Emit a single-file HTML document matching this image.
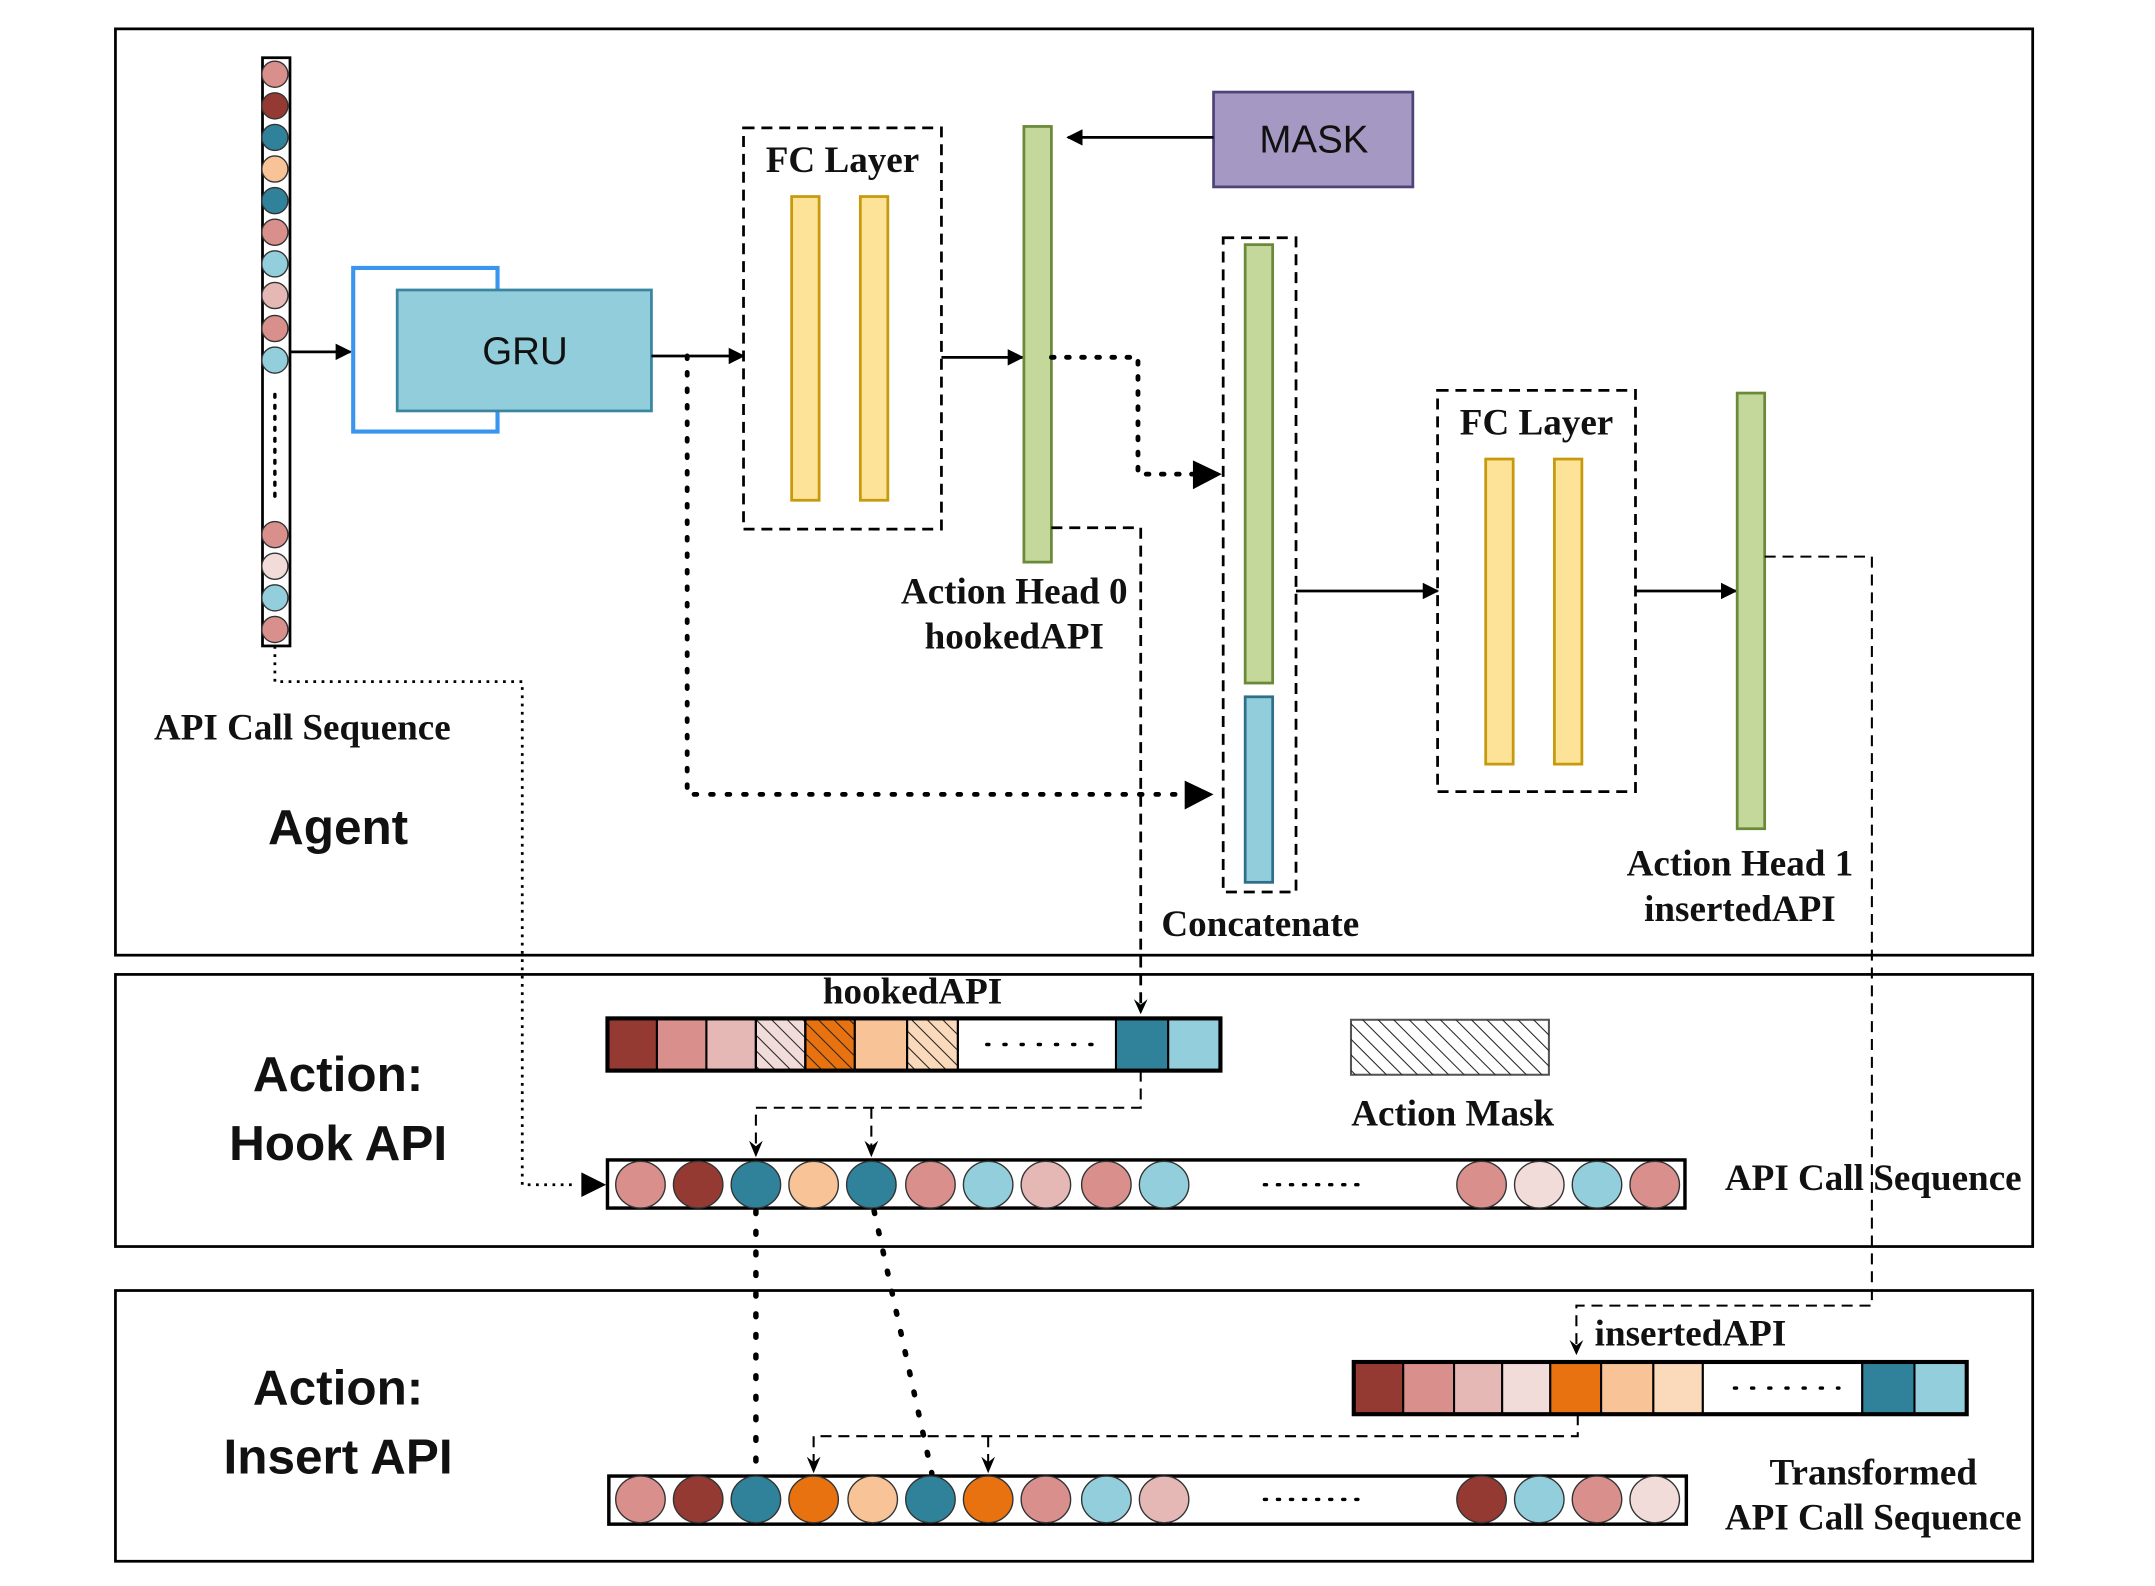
<!DOCTYPE html>
<html><head><meta charset="utf-8"><style>
html,body{margin:0;padding:0;background:#fff;}
svg{display:block;}
.s{font-family:"Liberation Serif",serif;font-weight:bold;font-size:27px;fill:#111;text-anchor:middle;}
.b{font-family:"Liberation Sans",sans-serif;font-weight:bold;font-size:36px;fill:#111;text-anchor:middle;}
</style></head><body>
<svg width="2155" height="1586" viewBox="0 0 1568 1154" preserveAspectRatio="none" xmlns="http://www.w3.org/2000/svg">
<defs>
<marker id="a" viewBox="0 0 10 10" refX="9" refY="5" markerWidth="12" markerHeight="12" markerUnits="userSpaceOnUse" orient="auto"><path d="M0,0L10,5L0,10z" fill="#000"/></marker>
<pattern id="h" width="8" height="8" patternUnits="userSpaceOnUse" patternTransform="rotate(-45)"><line x1="0" y1="0" x2="0" y2="8" stroke="#222" stroke-width="1.5"/></pattern>
</defs>
<rect width="1568" height="1154" fill="#fff"/>
<g fill="none" stroke="#000" stroke-width="2">
<rect x="84" y="21" width="1395" height="674"/>
<rect x="84" y="709" width="1395" height="198"/>
<rect x="84" y="939" width="1395" height="197"/>
</g>
<rect x="191" y="42" width="20" height="428" fill="#fff" stroke="#000" stroke-width="2"/>
<g stroke="#333" stroke-width="1">
<circle cx="200" cy="54" r="9.5" fill="#d9908c"/>
<circle cx="200" cy="77" r="9.5" fill="#943a33"/>
<circle cx="200" cy="100" r="9.5" fill="#2f829a"/>
<circle cx="200" cy="123" r="9.5" fill="#f8c396"/>
<circle cx="200" cy="146" r="9.5" fill="#2f829a"/>
<circle cx="200" cy="169" r="9.5" fill="#d9908c"/>
<circle cx="200" cy="192" r="9.5" fill="#93cedc"/>
<circle cx="200" cy="215" r="9.5" fill="#e5b8b5"/>
<circle cx="200" cy="239" r="9.5" fill="#d9908c"/>
<circle cx="200" cy="262" r="9.5" fill="#93cedc"/>
<circle cx="200" cy="389" r="9.5" fill="#d9908c"/>
<circle cx="200" cy="412" r="9.5" fill="#f2dcd9"/>
<circle cx="200" cy="435" r="9.5" fill="#93cedc"/>
<circle cx="200" cy="458" r="9.5" fill="#d9908c"/>
</g>
<line x1="200" y1="287" x2="200" y2="362" stroke="#000" stroke-width="2.5" stroke-dasharray="2 6" stroke-linecap="round"/>
<line x1="211" y1="256" x2="255" y2="256" stroke="#000" stroke-width="2" marker-end="url(#a)"/>
<path d="M362,211V195H257V314H362V299" fill="none" stroke="#3a95ee" stroke-width="3"/>
<rect x="289" y="211" width="185" height="88" fill="#92cddb" stroke="#3a86a0" stroke-width="2"/>
<text x="382" y="265" style="font-family:'Liberation Sans',sans-serif;font-size:28px;text-anchor:middle" fill="#111">GRU</text>
<line x1="474" y1="259" x2="541" y2="259" stroke="#000" stroke-width="2" marker-end="url(#a)"/>
<rect x="541" y="93" width="144" height="292" fill="none" stroke="#000" stroke-width="2" stroke-dasharray="8 5"/>
<text x="613" y="125" class="s">FC Layer</text>
<rect x="576" y="143" width="20" height="221" fill="#fde398" stroke="#c79a0c" stroke-width="2"/>
<rect x="626" y="143" width="20" height="221" fill="#fde398" stroke="#c79a0c" stroke-width="2"/>
<line x1="685" y1="260" x2="744" y2="260" stroke="#000" stroke-width="2" marker-end="url(#a)"/>
<rect x="745" y="92" width="20" height="317" fill="#c4d89b" stroke="#6a8a3a" stroke-width="2"/>
<rect x="883" y="67" width="145" height="69" fill="#a599c4" stroke="#4f4478" stroke-width="2"/>
<text x="956" y="111" style="font-family:'Liberation Sans',sans-serif;font-size:28px;text-anchor:middle" fill="#111">MASK</text>
<line x1="883" y1="100" x2="777" y2="100" stroke="#000" stroke-width="2" marker-end="url(#a)"/>
<path d="M765,260H828V345H870" fill="none" stroke="#000" stroke-width="3.5" stroke-dasharray="2 9" stroke-linecap="round"/>
<path d="M868,335L889,345L868,356z" fill="#000"/>
<path d="M765,384H830V736" fill="none" stroke="#000" stroke-width="2" stroke-dasharray="8 5"/>
<path d="M825,727L830,738L835,727L830,731z" fill="#000"/>
<path d="M500,259V578H862" fill="none" stroke="#000" stroke-width="3.5" stroke-dasharray="2 10" stroke-linecap="round"/>
<path d="M862,568L883,578L862,589z" fill="#000"/>
<text x="738" y="439" class="s">Action Head 0</text>
<text x="738" y="472" class="s">hookedAPI</text>
<rect x="890" y="173" width="53" height="476" fill="none" stroke="#000" stroke-width="2" stroke-dasharray="8 5"/>
<rect x="906" y="178" width="20" height="319" fill="#c4d89b" stroke="#6a8a3a" stroke-width="2"/>
<rect x="906" y="507" width="20" height="135" fill="#92cddb" stroke="#2f6f8a" stroke-width="2"/>
<text x="917" y="681" class="s">Concatenate</text>
<line x1="943" y1="430" x2="1046" y2="430" stroke="#000" stroke-width="2" marker-end="url(#a)"/>
<rect x="1046" y="284" width="144" height="292" fill="none" stroke="#000" stroke-width="2" stroke-dasharray="8 5"/>
<text x="1118" y="316" class="s">FC Layer</text>
<rect x="1081" y="334" width="20" height="222" fill="#fde398" stroke="#c79a0c" stroke-width="2"/>
<rect x="1131" y="334" width="20" height="222" fill="#fde398" stroke="#c79a0c" stroke-width="2"/>
<line x1="1190" y1="430" x2="1263" y2="430" stroke="#000" stroke-width="2" marker-end="url(#a)"/>
<rect x="1264" y="286" width="20" height="317" fill="#c4d89b" stroke="#6a8a3a" stroke-width="2"/>
<text x="1266" y="637" class="s">Action Head 1</text>
<text x="1266" y="670" class="s">insertedAPI</text>
<path d="M1284,405H1362V950H1147V983" fill="none" stroke="#000" stroke-width="1.5" stroke-dasharray="8 5"/>
<path d="M1142,975L1147,986L1152,975L1147,979z" fill="#000"/>
<text x="220" y="538" class="s">API Call Sequence</text>
<text x="246" y="614" class="b">Agent</text>
<path d="M200,470V496H380V862H420" fill="none" stroke="#000" stroke-width="2" stroke-dasharray="2 4"/>
<path d="M423,853L441,862L423,871z" fill="#000"/>
<text x="246" y="794" class="b">Action:</text>
<text x="246" y="844" class="b">Hook API</text>
<text x="664" y="730" class="s">hookedAPI</text>
<g stroke="#000" stroke-width="1.5">
<rect x="442" y="741" width="36" height="38" fill="#943a33"/>
<rect x="478" y="741" width="36" height="38" fill="#d9908c"/>
<rect x="514" y="741" width="36" height="38" fill="#e5b8b5"/>
<rect x="550" y="741" width="36" height="38" fill="#f2dcd9"/>
<rect x="550" y="741" width="36" height="38" fill="url(#h)"/>
<rect x="586" y="741" width="36" height="38" fill="#e8720f"/>
<rect x="586" y="741" width="36" height="38" fill="url(#h)"/>
<rect x="622" y="741" width="38" height="38" fill="#f8c396"/>
<rect x="660" y="741" width="37" height="38" fill="#fbd9bb"/>
<rect x="660" y="741" width="37" height="38" fill="url(#h)"/>
<rect x="697" y="741" width="115" height="38" fill="#fff"/>
<rect x="812" y="741" width="38" height="38" fill="#2f829a"/>
<rect x="850" y="741" width="38" height="38" fill="#93cedc"/>
</g>
<rect x="442" y="741" width="446" height="38" fill="none" stroke="#000" stroke-width="3"/>
<line x1="718" y1="760" x2="795" y2="760" stroke="#000" stroke-width="2.5" stroke-dasharray="1.5 11" stroke-linecap="round"/>
<rect x="983" y="742" width="144" height="40" fill="#fff" stroke="#555" stroke-width="1.5"/>
<rect x="983" y="742" width="144" height="40" fill="url(#h)"/>
<text x="1057" y="819" class="s">Action Mask</text>
<path d="M830,779V806H550V840M634,806V840" fill="none" stroke="#000" stroke-width="1.5" stroke-dasharray="8 5"/>
<path d="M545,830L550,842L555,830L550,834zM629,830L634,842L639,830L634,834z" fill="#000"/>
<rect x="442" y="844" width="784" height="35" fill="#fff" stroke="#000" stroke-width="2.5"/>
<g stroke="#333" stroke-width="1">
<ellipse cx="466" cy="862" rx="18" ry="17" fill="#d9908c"/>
<ellipse cx="508" cy="862" rx="18" ry="17" fill="#943a33"/>
<ellipse cx="550" cy="862" rx="18" ry="17" fill="#2f829a"/>
<ellipse cx="592" cy="862" rx="18" ry="17" fill="#f8c396"/>
<ellipse cx="634" cy="862" rx="18" ry="17" fill="#2f829a"/>
<ellipse cx="677" cy="862" rx="18" ry="17" fill="#d9908c"/>
<ellipse cx="719" cy="862" rx="18" ry="17" fill="#93cedc"/>
<ellipse cx="761" cy="862" rx="18" ry="17" fill="#e5b8b5"/>
<ellipse cx="805" cy="862" rx="18" ry="17" fill="#d9908c"/>
<ellipse cx="847" cy="862" rx="18" ry="17" fill="#93cedc"/>
<ellipse cx="1078" cy="862" rx="18" ry="17" fill="#d9908c"/>
<ellipse cx="1120" cy="862" rx="18" ry="17" fill="#f2dcd9"/>
<ellipse cx="1162" cy="862" rx="18" ry="17" fill="#93cedc"/>
<ellipse cx="1204" cy="862" rx="18" ry="17" fill="#d9908c"/>
</g>
<line x1="920" y1="862" x2="996" y2="862" stroke="#000" stroke-width="2.5" stroke-dasharray="1.5 8" stroke-linecap="round"/>
<text x="1363" y="866" class="s">API Call Sequence</text>
<line x1="550" y1="881" x2="550" y2="1072" stroke="#000" stroke-width="4" stroke-dasharray="2 13" stroke-linecap="round"/>
<line x1="636" y1="881" x2="678" y2="1072" stroke="#000" stroke-width="4" stroke-dasharray="2 13" stroke-linecap="round"/>
<text x="246" y="1022" class="b">Action:</text>
<text x="246" y="1072" class="b">Insert API</text>
<text x="1230" y="979" class="s">insertedAPI</text>
<g stroke="#000" stroke-width="1.5">
<rect x="985" y="991" width="36" height="38" fill="#943a33"/>
<rect x="1021" y="991" width="37" height="38" fill="#d9908c"/>
<rect x="1058" y="991" width="35" height="38" fill="#e5b8b5"/>
<rect x="1093" y="991" width="35" height="38" fill="#f2dcd9"/>
<rect x="1128" y="991" width="37" height="38" fill="#e8720f"/>
<rect x="1165" y="991" width="38" height="38" fill="#f8c396"/>
<rect x="1203" y="991" width="36" height="38" fill="#fbd9bb"/>
<rect x="1239" y="991" width="116" height="38" fill="#fff"/>
<rect x="1355" y="991" width="38" height="38" fill="#2f829a"/>
<rect x="1393" y="991" width="38" height="38" fill="#93cedc"/>
</g>
<rect x="985" y="991" width="446" height="38" fill="none" stroke="#000" stroke-width="3"/>
<line x1="1262" y1="1010" x2="1338" y2="1010" stroke="#000" stroke-width="2.5" stroke-dasharray="1.5 11" stroke-linecap="round"/>
<path d="M1148,1029V1045H592V1070M719,1045V1070" fill="none" stroke="#000" stroke-width="1.5" stroke-dasharray="8 5"/>
<path d="M587,1060L592,1072L597,1060L592,1064zM714,1060L719,1072L724,1060L719,1064z" fill="#000"/>
<rect x="443" y="1074" width="784" height="35" fill="#fff" stroke="#000" stroke-width="2.5"/>
<g stroke="#333" stroke-width="1">
<ellipse cx="466" cy="1091" rx="18" ry="17" fill="#d9908c"/>
<ellipse cx="508" cy="1091" rx="18" ry="17" fill="#943a33"/>
<ellipse cx="550" cy="1091" rx="18" ry="17" fill="#2f829a"/>
<ellipse cx="592" cy="1091" rx="18" ry="17" fill="#e8720f"/>
<ellipse cx="635" cy="1091" rx="18" ry="17" fill="#f8c396"/>
<ellipse cx="677" cy="1091" rx="18" ry="17" fill="#2f829a"/>
<ellipse cx="719" cy="1091" rx="18" ry="17" fill="#e8720f"/>
<ellipse cx="761" cy="1091" rx="18" ry="17" fill="#d9908c"/>
<ellipse cx="805" cy="1091" rx="18" ry="17" fill="#93cedc"/>
<ellipse cx="847" cy="1091" rx="18" ry="17" fill="#e5b8b5"/>
<ellipse cx="1078" cy="1091" rx="18" ry="17" fill="#943a33"/>
<ellipse cx="1120" cy="1091" rx="18" ry="17" fill="#93cedc"/>
<ellipse cx="1162" cy="1091" rx="18" ry="17" fill="#d9908c"/>
<ellipse cx="1204" cy="1091" rx="18" ry="17" fill="#f2dcd9"/>
</g>
<line x1="920" y1="1091" x2="996" y2="1091" stroke="#000" stroke-width="2.5" stroke-dasharray="1.5 8" stroke-linecap="round"/>
<text x="1363" y="1080" class="s">Transformed</text>
<text x="1363" y="1113" class="s">API Call Sequence</text>
</svg>
</body></html>
